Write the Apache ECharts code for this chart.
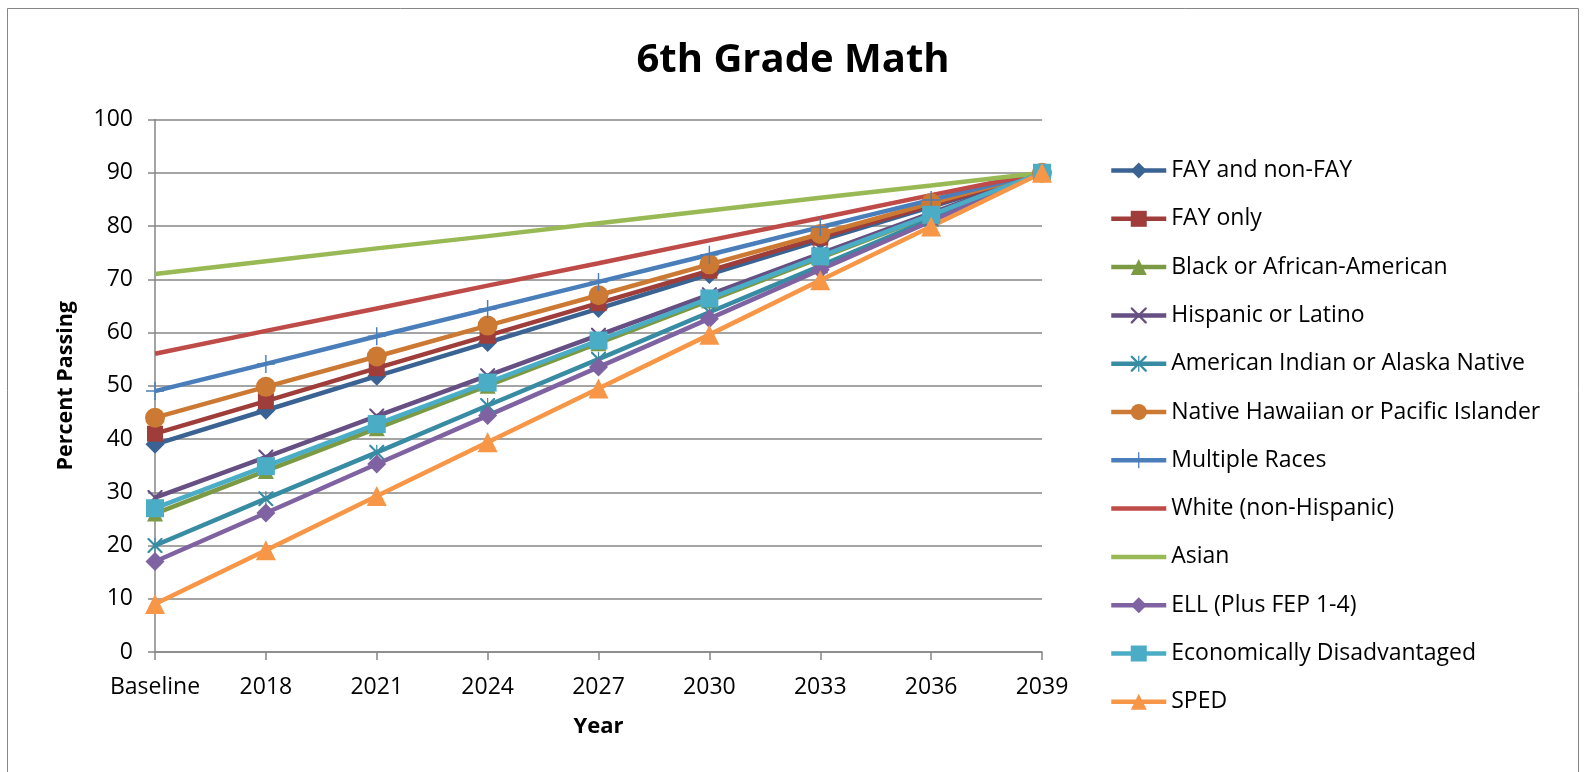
<!DOCTYPE html>
<html><head><meta charset="utf-8">
<script src="https://cdn.jsdelivr.net/npm/echarts@6/dist/echarts.min.js"></script>
<style>html,body{margin:0;padding:0;background:#fff}#c{width:1587px;height:772px}</style>
</head><body><div id="c"></div>
<script>
var categories = ['Baseline','2018','2021','2024','2027','2030','2033','2036','2039'];
var yTicks = [0,10,20,30,40,50,60,70,80,90,100];
var fayAndNonFay = [39, 45.4, 51.8, 58.1, 64.5, 70.9, 77.3, 83.6, 90];
var fayOnly      = [41, 47.1, 53.3, 59.4, 65.5, 71.6, 77.8, 83.9, 90];
var black        = [26, 34, 42, 50, 58, 66, 74, 82, 90];
var hispanic     = [29, 36.6, 44.3, 51.9, 59.5, 67.1, 74.8, 82.4, 90];
var amIndian     = [20, 28.8, 37.5, 46.3, 55, 63.8, 72.5, 81.3, 90];
var hawaiian     = [44, 49.8, 55.5, 61.3, 67, 72.8, 78.5, 84.3, 90];
var multiple     = [49, 54.1, 59.3, 64.4, 69.5, 74.6, 79.8, 84.9, 90];
var white        = [56, 60.3, 64.5, 68.8, 73, 77.3, 81.5, 85.8, 90];
var asian        = [71, 73.4, 75.8, 78.1, 80.5, 82.9, 85.3, 87.6, 90];
var ell          = [17, 26.1, 35.3, 44.4, 53.5, 62.6, 71.8, 80.9, 90];
var econ         = [27, 34.9, 42.8, 50.6, 58.5, 66.4, 74.3, 82.1, 90];
var sped         = [9, 19.1, 29.3, 39.4, 49.5, 59.6, 69.8, 79.9, 90];

var X_PATH = 'path://M0,0L2,0L10,8L18,0L20,0L20,2L12,10L20,18L20,20L18,20L10,12L2,20L0,20L0,18L8,10L0,2Z';
var PLUS_PATH = 'path://M9.2,0L10.8,0L10.8,9.2L20,9.2L20,10.8L10.8,10.8L10.8,20L9.2,20L9.2,10.8L0,10.8L0,9.2L9.2,9.2Z';
var AST_PATH = 'path://M0,0L2,0L10,8L18,0L20,0L20,2L12,10L20,18L20,20L18,20L10,12L2,20L0,20L0,18L8,10L0,2Z M9.2,0L10.8,0L10.8,20L9.2,20Z';
// plain line legend icon (bounding box kept by tiny corner points)
var LINE_ICON = 'path://M0,0L0.01,0L0.01,0.01Z M54.99,20L55,20L55,19.99Z M0,7.75L55,7.75L55,12.25L0,12.25Z';

var defs = [
  ['FAY and non-FAY', fayAndNonFay, '#3A6393', 'diamond', 19],
  ['FAY only', fayOnly, '#9E3D3A', 'rect', 16],
  ['Black or African-American', black, '#7C9A44', 'triangle', 16],
  ['Hispanic or Latino', hispanic, '#654F83', X_PATH, 15],
  ['American Indian or Alaska Native', amIndian, '#378CA4', AST_PATH, 15],
  ['Native Hawaiian or Pacific Islander', hawaiian, '#CC7A33', 'circle', 20],
  ['Multiple Races', multiple, '#4A7EBB', PLUS_PATH, 18],
  ['White (non-Hispanic)', white, '#BE4B48', 'none', 0],
  ['Asian', asian, '#98B954', 'none', 0],
  ['ELL (Plus FEP 1-4)', ell, '#7E62A1', 'diamond', 19],
  ['Economically Disadvantaged', econ, '#4AACC5', 'rect', 18],
  ['SPED', sped, '#F79646', 'triangle', 20]
];

var series = defs.map(function(d){
  return {
    name: d[0], type: 'line', data: d[1],
    symbol: d[3], symbolSize: d[4], showSymbol: d[3] !== 'none',
    lineStyle: {color: d[2], width: 4.5},
    itemStyle: {color: d[2], borderWidth: 0},
    emphasis: {disabled: true},
    animation: false
  };
});

var legendData = defs.map(function(d){
  var item = {name: d[0]};
  if (d[3] === 'none') { item.icon = LINE_ICON; item.itemStyle = {color: d[2]}; }
  return item;
});

var chart = echarts.init(document.getElementById('c'));
chart.setOption({
  backgroundColor: '#fff',
  animation: false,
  title: {text: '6th Grade Math', left: 788, top: 36, textAlign: 'center',
    textStyle: {fontFamily: 'Open Sans', fontWeight: 'bold', fontSize: 40, color: '#000'}},
  grid: {left: 155, right: 545, top: 119.5, bottom: 120},
  legend: {
    orient: 'vertical', left: 1104, top: 154, itemWidth: 55, itemHeight: 20, itemGap: 25.3,
    lineStyle: {width: 4.5},
    textStyle: {fontFamily: 'Open Sans', fontSize: 23, color: '#000', lineHeight: 20},
    data: legendData
  },
  xAxis: {
    type: 'category', data: categories, boundaryGap: false,
    name: 'Year', nameLocation: 'middle', nameGap: 64,
    nameTextStyle: {fontFamily: 'Open Sans', fontWeight: 'bold', fontSize: 22, color: '#000'},
    axisLine: {lineStyle: {color: '#868686', width: 1.5}},
    axisTick: {alignWithLabel: true, interval: 0, length: 8, lineStyle: {color: '#868686', width: 1.5}},
    axisLabel: {interval: 0, fontFamily: 'Open Sans', fontSize: 23, color: '#000', margin: 24},
    splitLine: {show: false}
  },
  yAxis: {
    type: 'value', min: yTicks[0], max: yTicks[yTicks.length-1], interval: 10,
    name: 'Percent Passing', nameLocation: 'middle', nameGap: 78,
    nameTextStyle: {fontFamily: 'Open Sans', fontWeight: 'bold', fontSize: 21.5, color: '#000'},
    axisLine: {show: true, lineStyle: {color: '#868686', width: 1.5}},
    axisTick: {show: true, length: 7, lineStyle: {color: '#868686', width: 1.5}},
    axisLabel: {fontFamily: 'Open Sans', fontSize: 23, color: '#000', margin: 22},
    splitLine: {lineStyle: {color: '#868686', width: 1.5}}
  },
  graphic: [{type: 'rect', shape: {x: 7.5, y: 8.5, width: 1571, height: 800},
    style: {fill: 'none', stroke: '#868686', lineWidth: 1}, silent: true, z: -1}],
  series: series
});
</script></body></html>
